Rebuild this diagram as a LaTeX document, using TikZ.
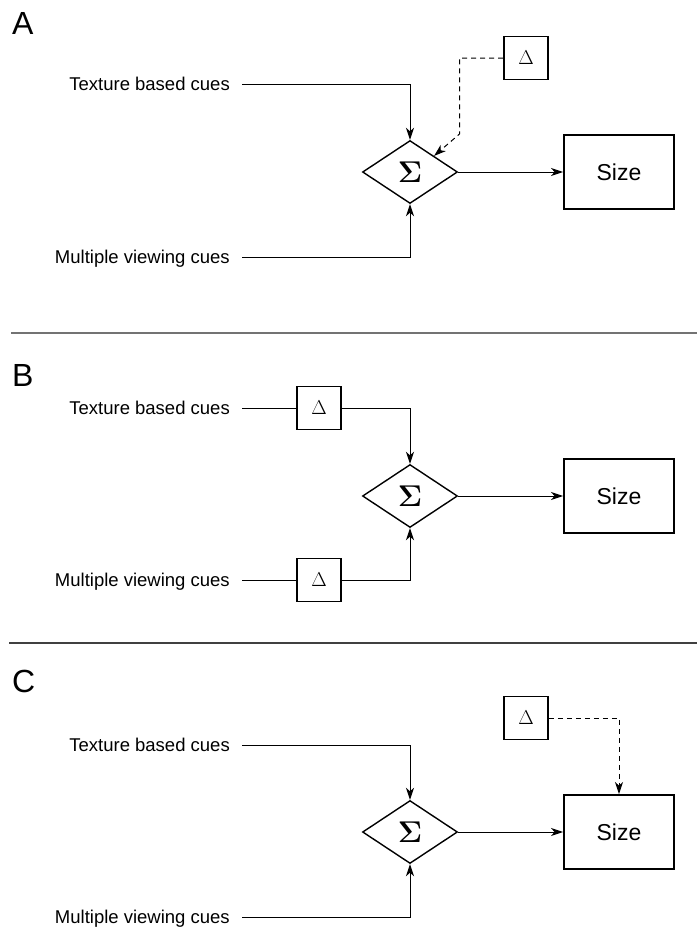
\documentclass[tikz,border=0pt]{standalone}
\usepackage{fix-cm}
\usepackage[no-math]{fontspec}
\newfontfamily\labfont{Liberation Sans}
\usetikzlibrary{arrows.meta,shapes.geometric}

\tikzset{
  lbl/.style={font=\labfont\fontsize{18.5}{22}\selectfont, inner sep=0pt,
              text height=13pt, text depth=0pt, anchor=east},
  panel/.style={font=\labfont\fontsize{32}{36}\selectfont, inner sep=0pt, anchor=base west},
  sumnode/.style={draw, shape=diamond, line width=1.4pt, minimum width=95pt,
                  minimum height=63pt, inner sep=0pt,
                  font=\fontsize{30}{32}\selectfont},
  sizebox/.style={draw, rectangle, line width=1.9pt, minimum width=110pt,
                  minimum height=74pt, inner sep=0pt,
                  font=\labfont\fontsize{23}{26}\selectfont},
  deltabox/.style={draw, rectangle, line width=1.7pt, minimum width=44pt,
                   minimum height=43pt, inner sep=0pt,
                   font=\fontsize{20}{22}\selectfont},
  conn/.style={line width=1pt, -{Stealth[length=12pt,width=8pt,inset=3.5pt]}},
  plain/.style={line width=1pt},
  dashconn/.style={conn, dash pattern=on 5pt off 4pt},
  divider/.style={line width=1.3pt, draw=black!55}
}

\begin{document}
\begin{tikzpicture}[x=1pt,y=-1pt]
\useasboundingbox (0,0) rectangle (700,927);

% ---------------- Panel A ----------------
\node[panel] (pA) at (12,34) {A};
\node[lbl] (tA) at (230,84) {Texture based cues};
\node[lbl] (mA) at (230,257) {Multiple viewing cues};
\node[sumnode] (sgA) at (410,172) {$\mathbf{\Sigma}$};
\node[sizebox] (szA) at (619,172) {Size};
\node[deltabox] (dA) at (526,58) {$\Delta$};
\coordinate (kA) at (459.5,134);

\draw[conn] ([xshift=12pt]tA.east) -| (sgA.north);
\draw[conn] ([xshift=12pt]mA.east) -| (sgA.south);
\draw[conn] (sgA.east) -- (szA.west);
\draw[dashconn] (dA.west) -| (kA) -- (sgA.north east);

\draw[divider] (11,333) -- (697,333);

% ---------------- Panel B ----------------
\node[panel] (pB) at (12,386) {B};
\node[lbl] (tB) at (230,408) {Texture based cues};
\node[lbl] (mB) at (230,580) {Multiple viewing cues};
\node[sumnode] (sgB) at (410,496) {$\mathbf{\Sigma}$};
\node[sizebox] (szB) at (619,496) {Size};
\node[deltabox] (dB1) at (319,408) {$\Delta$};
\node[deltabox] (dB2) at (319,580) {$\Delta$};

\draw[plain] ([xshift=12pt]tB.east) -- (dB1.west);
\draw[conn] (dB1.east) -| (sgB.north);
\draw[plain] ([xshift=12pt]mB.east) -- (dB2.west);
\draw[conn] (dB2.east) -| (sgB.south);
\draw[conn] (sgB.east) -- (szB.west);

\draw[divider, draw=black!75] (9,643) -- (697,643);

% ---------------- Panel C ----------------
\node[panel] (pC) at (12,692) {C};
\node[lbl] (tC) at (230,745) {Texture based cues};
\node[lbl] (mC) at (230,917) {Multiple viewing cues};
\node[sumnode] (sgC) at (410,832) {$\mathbf{\Sigma}$};
\node[sizebox] (szC) at (619,832) {Size};
\node[deltabox] (dC) at (526,718) {$\Delta$};

\draw[conn] ([xshift=12pt]tC.east) -| (sgC.north);
\draw[conn] ([xshift=12pt]mC.east) -| (sgC.south);
\draw[conn] (sgC.east) -- (szC.west);
\draw[dashconn] (dC.east) -| (szC.north);
\end{tikzpicture}
\end{document}
